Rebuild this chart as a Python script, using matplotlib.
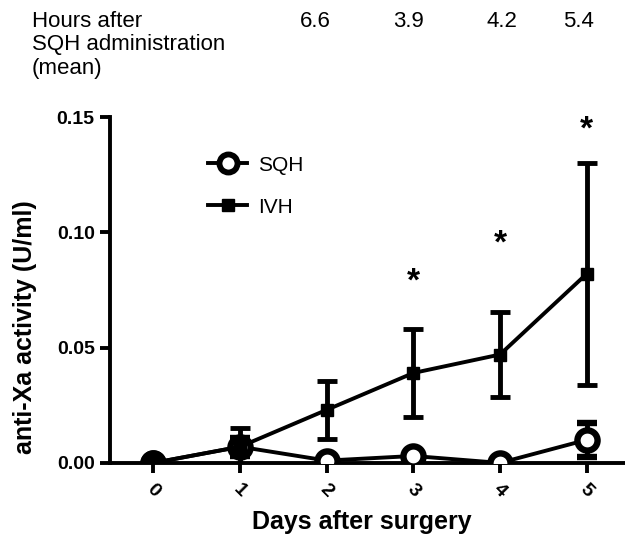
import numpy as np
import matplotlib.pyplot as plt
from matplotlib.lines import Line2D

plt.rcParams['font.family'] = ['Liberation Sans', 'DejaVu Sans']

days = [0, 1, 2, 3, 4, 5]
day_labels = ['0', '1', '2', '3', '4', '5']

# anti-Xa activity (U/ml), mean and error
sqh_mean = [0.000, 0.007, 0.001, 0.003, 0.000, 0.010]
sqh_err = [0.000, 0.004, 0.000, 0.000, 0.000, 0.0075]
ivh_mean = [0.000, 0.007, 0.023, 0.039, 0.047, 0.082]
ivh_err = [0.000, 0.008, 0.0125, 0.019, 0.0185, 0.048]

# significance marks: day, height
star_days = [3, 4, 5]
star_y = [0.0786, 0.0947, 0.1445]

hours_labels = ['6.6', '3.9', '4.2', '5.4']

fig = plt.figure(figsize=(6.25, 5.37), dpi=100)
ax = fig.add_axes([0.176, 0.138, 0.832, 0.644])

ax.errorbar(days, sqh_mean, yerr=sqh_err, color='black', lw=2.8, marker='o',
            markersize=14.5, mfc='white', mec='black', mew=4.6, capsize=7,
            capthick=3.5, elinewidth=3.5, zorder=3)
ax.errorbar(days, ivh_mean, yerr=ivh_err, color='black', lw=2.8, marker='s',
            markersize=9, mfc='black', mec='black', capsize=7,
            capthick=3.5, elinewidth=3.5, zorder=4)
# day 0: both groups overlap, shows as a solid dot
ax.plot(days[0], sqh_mean[0], 'o', color='black', markersize=14.5, mew=4.6, zorder=5)

for d, y in zip(star_days, star_y):
    ax.text(d, y, '*', ha='center', va='center', fontsize=24, fontweight='bold', clip_on=False)

ax.set_xlim(-0.5, 5.5)
ax.set_ylim(0, 0.15)
ax.set_yticks([0.0, 0.05, 0.10, 0.15])
ax.set_yticklabels(['0.00', '0.05', '0.10', '0.15'])
ax.set_xticks(days)
ax.set_xticklabels(day_labels, rotation=-45, ha='center', va='top')

for s in ['top', 'right']:
    ax.spines[s].set_visible(False)
for s in ['left', 'bottom']:
    ax.spines[s].set_linewidth(2.8)
ax.tick_params(width=2.8, length=7, labelsize=14, pad=4)
ax.tick_params(axis='x', pad=6)
for lab in ax.get_xticklabels() + ax.get_yticklabels():
    lab.set_fontweight('bold')

ax.set_xlabel('Days after surgery', fontsize=18, fontweight='bold', va='top')
ax.xaxis.set_label_coords(0.485, -0.136)
ax.set_ylabel('anti-Xa activity (U/ml)', fontsize=18, fontweight='bold', va='center')
ax.yaxis.set_label_coords(-0.163, 0.393)

handles = [
    Line2D([], [], color='black', lw=2.8, marker='o', markersize=13, mfc='white',
           mec='black', mew=4.2),
    Line2D([], [], color='black', lw=2.8, marker='s', markersize=9, mfc='black'),
]
ax.legend(handles, ['SQH', 'IVH'], loc='center left', bbox_to_anchor=(0.152, 0.80),
          frameon=False, fontsize=15, handlelength=1.9, handletextpad=0.5,
          labelspacing=1.1)

fig.text(32 / 625, 1 - 11 / 537, 'Hours after\nSQH administration\n(mean)', fontsize=16,
         ha='left', va='top', linespacing=1.15)
hours_x = [315, 408, 502, 579]
for xp, h in zip(hours_x, hours_labels):
    fig.text(xp / 625, 1 - 11 / 537, h, fontsize=16, ha='center', va='top')

fig.savefig('out.png', dpi=100)
